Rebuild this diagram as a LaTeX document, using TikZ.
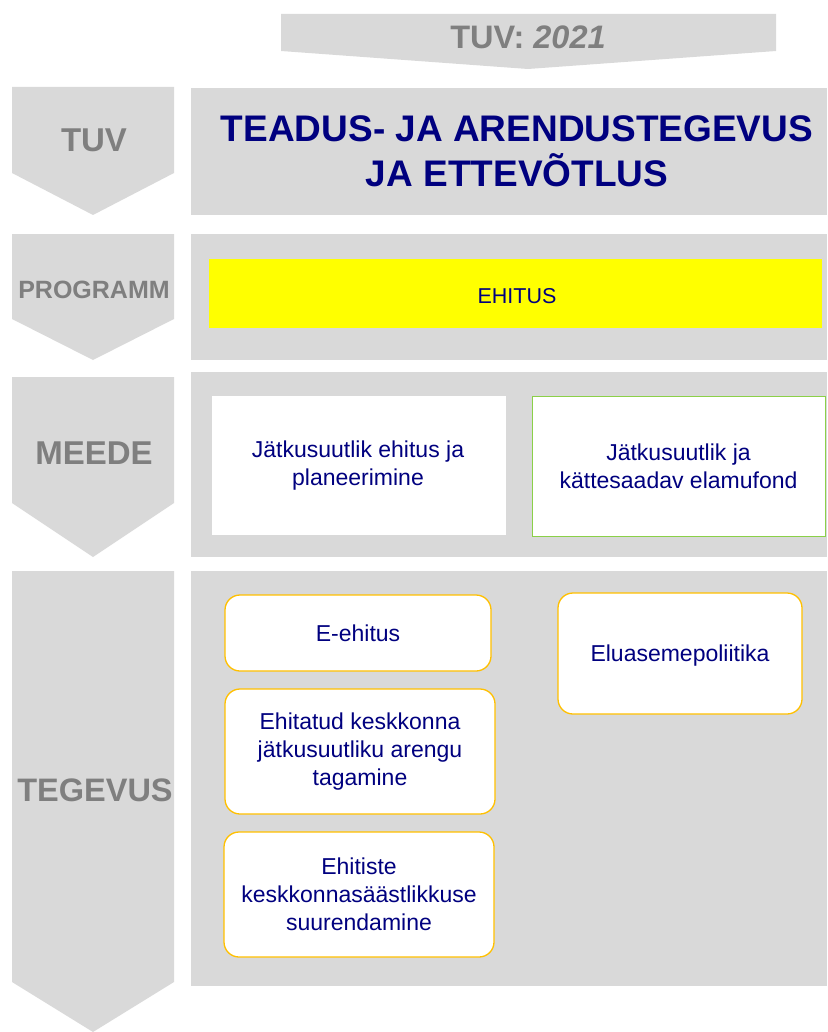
\documentclass[tikz,border=0pt]{standalone}
\usepackage{fontspec}
\setmainfont{Liberation Sans}
\definecolor{boxgray}{HTML}{D9D9D9}
\definecolor{labgray}{HTML}{7F7F7F}
\definecolor{navy}{HTML}{00007F}
\definecolor{gold}{HTML}{FFC000}
\definecolor{lgreen}{HTML}{8BD048}
\definecolor{pureyellow}{RGB}{255,255,0}
\begin{document}
\begin{tikzpicture}[x=1pt,y=-1pt,
  chev/.style={fill=boxgray,draw=none},
  panel/.style={fill=boxgray,draw=none},
  lab/.style={text=labgray,font=\bfseries\fontsize{33}{38}\selectfont,inner sep=0pt},
  body/.style={text=navy,align=center,font=\fontsize{23}{28}\selectfont,inner sep=0pt},
  wbox/.style={fill=white,draw=none},
  rbox/.style={fill=white,draw=gold,line width=1.3pt,rounded corners=15pt}]
\useasboundingbox (0,0) rectangle (827,1032);
% top banner
\fill[chev] (281,14) -- (776,14) -- (776,51) -- (528,69) -- (281,51) -- cycle;
\node[lab,font=\bfseries\fontsize{32.5}{38}\selectfont] (banner) at (528,37) {TUV: \textit{2021}};
% chevrons
\fill[chev] (12,87) -- (174,87) -- (174,173) -- (93,215) -- (12,173) -- cycle;
\node[lab] (ltuv) at (94,140) {TUV};
\fill[chev] (12,234) -- (174,234) -- (174,319) -- (93,360) -- (12,319) -- cycle;
\node[lab,font=\bfseries\fontsize{25}{30}\selectfont] (lprog) at (94,290) {PROGRAMM};
\fill[chev] (12,377) -- (174,377) -- (174,503) -- (93,557) -- (12,503) -- cycle;
\node[lab] (lmeede) at (94,453) {MEEDE};
\fill[chev] (12,571) -- (174,571) -- (174,982) -- (93,1032) -- (12,982) -- cycle;
\node[lab,font=\bfseries\fontsize{32.5}{38}\selectfont] (lteg) at (95,790) {TEGEVUS};
% panels
\fill[panel] (191,88) rectangle (827,215);
\node[text=navy,align=center,font=\bfseries\fontsize{37}{45}\selectfont,inner sep=0pt] (title) at (517,151) {TEADUS- JA ARENDUSTEGEVUS\\JA ETTEVÕTLUS};
\fill[panel] (191,234) rectangle (827,360);
\fill[pureyellow] (209,259) rectangle (822,328);
\node[body,font=\fontsize{21.5}{25}\selectfont] (ehitus) at (517,296) {EHITUS};
\fill[panel] (191,372) rectangle (827,557);
\fill[wbox] (212,396) rectangle (506,535);
\node[body] (m1) at (358,466) {Jätkusuutlik ehitus ja\\planeerimine};
\draw[fill=white,draw=lgreen,line width=1pt] (532,396) rectangle (825,536);
\node[body] (m2) at (678.5,466) {Jätkusuutlik ja\\kättesaadav elamufond};
\fill[panel] (191,571) rectangle (827,986);
\draw[rbox] (225,595) rectangle (491,671);
\node[body] (t1) at (358,633) {E-ehitus};
\draw[rbox] (225,689) rectangle (495,814);
\node[body] (t2) at (360,752) {Ehitatud keskkonna\\jätkusuutliku arengu\\tagamine};
\draw[rbox] (224,832) rectangle (494,957);
\node[body] (t3) at (359,894) {Ehitiste\\keskkonnasäästlikkuse\\suurendamine};
\draw[rbox] (558,593) rectangle (802,714);
\node[body] (t4) at (680,656) {Eluasemepoliitika};
\end{tikzpicture}
\end{document}
